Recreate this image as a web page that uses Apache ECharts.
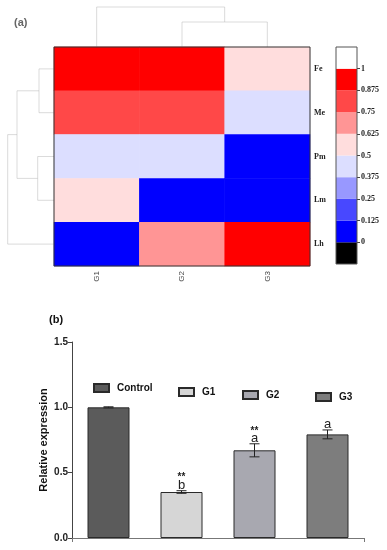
<!DOCTYPE html>
<html><head><meta charset="utf-8">
<script src="https://cdn.jsdelivr.net/npm/echarts@6/dist/echarts.min.js"></script>
<style>html,body{margin:0;padding:0;background:#fff}#c{width:387px;height:550px}</style>
</head><body><div id="c"></div>
<script>
// ---------- heatmap data ----------
const heatCols = ['G1', 'G2', 'G3'];
const heatRows = ['Fe', 'Me', 'Pm', 'Lm', 'Lh'];
const rowFe = [0.95, 0.95, 0.56];
const rowMe = [0.80, 0.80, 0.44];
const rowPm = [0.44, 0.44, 0.06];
const rowLm = [0.56, 0.06, 0.06];
const rowLh = [0.06, 0.70, 0.95];
// colour key: bin edges and colours (bottom to top)
const keyEdges = [-0.125, 0, 0.125, 0.25, 0.375, 0.5, 0.625, 0.75, 0.875, 1, 1.125];
const keyLabels = [0, 0.125, 0.25, 0.375, 0.5, 0.625, 0.75, 0.875, 1];
const keyColors = ['#000000', '#0000ff', '#4848ff', '#9898ff', '#dcdeff', '#ffdddd', '#ff9595', '#ff4848', '#ff0000', '#ffffff'];
// dendrogram linkages [a, b, height]  (new node index = nLeaves + k)
const colLinkage = [[1, 2, 25], [0, 3, 40]];
const rowLinkage = [[0, 1, 15], [2, 3, 16.3], [5, 6, 37], [4, 7, 46.3]];

// ---------- bar chart data ----------
const barCats = ['Control', 'G1', 'G2', 'G3'];
const barValues = [1.0, 0.352, 0.671, 0.793];
const barErrors = [0.004, 0.01, 0.05, 0.034];
const barStars = ['', '**', '**', ''];
const barLetters = ['', 'b', 'a', 'a'];
const barColors = ['#5b5b5b', '#d6d6d6', '#a8a8b0', '#7d7d7d'];
const yTicks = [0, 0.5, 1.0, 1.5];

// ---------- build helpers ----------
const heatRowsData = [rowFe, rowMe, rowPm, rowLm, rowLh];
const heatData = [];
heatRowsData.forEach((row, r) => row.forEach((v, c) => heatData.push([c, r, v])));

function dendroLinks(linkage, n) {
  const pos = [], hgt = [];
  for (let i = 0; i < n; i++) { pos.push(i + 0.5); hgt.push(0); }
  const links = [];
  linkage.forEach(([a, b, h]) => {
    links.push([[pos[a], hgt[a]], [pos[a], h], [pos[b], h], [pos[b], hgt[b]]]);
    pos.push((pos[a] + pos[b]) / 2); hgt.push(h);
  });
  return links;
}
const colLinks = dendroLinks(colLinkage, heatCols.length);
const rowLinks = dendroLinks(rowLinkage, heatRows.length).map(l => l.map(([p, h]) => [h, p]));

const pieces = [];
for (let i = 0; i < keyColors.length; i++) {
  const p = { color: keyColors[i] };
  if (i > 0) p.gte = keyEdges[i];
  if (i < keyColors.length - 1) p.lt = keyEdges[i + 1];
  pieces.push(p);
}

const serif = 'Liberation Serif', sans = 'Liberation Sans';
const dendroStyle = { color: '#b8b8b8', width: 1 };

const series = [];
series.push({
  type: 'heatmap', xAxisIndex: 0, yAxisIndex: 0, data: heatData,
  itemStyle: { borderWidth: 0 }, emphasis: { disabled: true }, silent: true
});
series.push({
  type: 'lines', coordinateSystem: 'cartesian2d', xAxisIndex: 1, yAxisIndex: 1, polyline: true,
  data: colLinks.map(c => ({ coords: c })), lineStyle: dendroStyle, silent: true
});
series.push({
  type: 'lines', coordinateSystem: 'cartesian2d', xAxisIndex: 2, yAxisIndex: 2, polyline: true,
  data: rowLinks.map(c => ({ coords: c })), lineStyle: dendroStyle, silent: true
});
keyColors.forEach((col, i) => {
  const size = keyEdges[i + 1] - keyEdges[i];
  series.push({
    type: 'bar', xAxisIndex: 3, yAxisIndex: 3, stack: 'key', barWidth: '100%',
    data: [keyEdges[i] < 0 ? -size : size],
    itemStyle: { color: col }, silent: true
  });
});
barCats.forEach((name, i) => {
  series.push({
    name: name, type: 'bar', xAxisIndex: 4, yAxisIndex: 4, stack: 'bars', barWidth: 42,
    data: barValues.map((v, j) => j === i ? v : '-'),
    itemStyle: { color: barColors[i], borderColor: '#2a2a2a', borderWidth: 1 }, silent: true
  });
});
series.push({
  type: 'custom', xAxisIndex: 4, yAxisIndex: 4, silent: true, z: 5,
  data: barValues.map((v, i) => [i, v]),
  renderItem: function (params, api) {
    const i = params.dataIndex, v = barValues[i], e = barErrors[i];
    const top = api.coord([i, v + e]), bot = api.coord([i, v - e]);
    const x = top[0], cap = 5, st = { stroke: '#222', lineWidth: 1 };
    const ch = [
      { type: 'line', shape: { x1: x, y1: top[1], x2: x, y2: bot[1] }, style: st },
      { type: 'line', shape: { x1: x - cap, y1: top[1], x2: x + cap, y2: top[1] }, style: st },
      { type: 'line', shape: { x1: x - cap, y1: bot[1], x2: x + cap, y2: bot[1] }, style: st }
    ];
    let ly = top[1];
    if (barLetters[i]) {
      ch.push({ type: 'text', x: x, y: top[1] + 1, style: { text: barLetters[i], align: 'center', verticalAlign: 'bottom', font: '13px ' + sans, fill: '#222' } });
      ly = top[1] - 11;
    }
    if (barStars[i]) {
      ch.push({ type: 'text', x: x, y: ly - 7, style: { text: barStars[i], align: 'center', verticalAlign: 'top', font: 'bold 10px ' + sans, fill: '#222' } });
    }
    return { type: 'group', children: ch };
  }
});

const legendPos = [[93, 383], [178, 387], [242, 390], [315, 392]];
const legends = barCats.map((name, i) => ({
  data: [name], left: legendPos[i][0], top: legendPos[i][1], padding: 0,
  itemWidth: 15, itemHeight: 8, selectedMode: false, icon: 'rect',
  textStyle: { fontFamily: sans, fontWeight: 'bold', fontSize: 10, color: '#111', padding: [0, 0, 0, 3] }
}));

const option = {
  animation: false,
  backgroundColor: '#fff',
  title: [
    { text: '(a)', left: 14, top: 17, padding: 0, textStyle: { fontFamily: sans, fontSize: 11, fontWeight: 'bold', color: '#666' } },
    { text: '(b)', left: 49, top: 314, padding: 0, textStyle: { fontFamily: sans, fontSize: 11, fontWeight: 'bold', color: '#111' } }
  ],
  legend: legends,
  visualMap: { type: 'piecewise', show: false, seriesIndex: 0, pieces: pieces },
  grid: [
    { left: 54, top: 47, width: 256, height: 219, show: true, borderColor: '#333', borderWidth: 1, z: 3 },
    { left: 54, top: 0, width: 256, height: 47 },
    { left: 0, top: 47, width: 54, height: 219 },
    { left: 336, top: 47, width: 21, height: 217, show: true, borderColor: '#555', borderWidth: 1, z: 3 },
    { left: 72, top: 342, width: 292, height: 196 }
  ],
  xAxis: [
    { type: 'category', gridIndex: 0, data: heatCols, axisLine: { show: false }, axisTick: { show: false },
      axisLabel: { rotate: 90, fontSize: 8, fontFamily: sans, color: '#444', margin: 5 } },
    { type: 'value', gridIndex: 1, min: 0, max: 3, show: false },
    { type: 'value', gridIndex: 2, min: 0, max: 54, inverse: true, show: false },
    { type: 'category', gridIndex: 3, data: [''], show: false },
    { type: 'category', gridIndex: 4, data: barCats,
      axisLine: { lineStyle: { color: '#777', width: 1 } },
      axisTick: { show: true, length: 4, interval: function (i) { return i === 2; }, lineStyle: { color: '#777' } },
      axisLabel: { show: false } }
  ],
  yAxis: [
    { type: 'category', gridIndex: 0, data: heatRows, inverse: true, position: 'right',
      axisLine: { show: false }, axisTick: { show: false },
      axisLabel: { fontSize: 8, fontFamily: serif, fontWeight: 'bold', color: '#222', margin: 4 } },
    { type: 'value', gridIndex: 1, min: 0, max: 47, show: false },
    { type: 'value', gridIndex: 2, min: 0, max: 5, inverse: true, show: false },
    { type: 'value', gridIndex: 3, min: -0.125, max: 1.125, interval: 0.125, position: 'right',
      axisLine: { show: false }, splitLine: { show: false },
      axisTick: { show: true, length: 3, customValues: keyLabels, lineStyle: { color: '#444' } },
      axisLabel: { fontSize: 8, fontFamily: serif, fontWeight: 'bold', color: '#222', margin: 4,
        customValues: keyLabels, formatter: v => String(v) } },
    { type: 'value', gridIndex: 4, min: yTicks[0], max: yTicks[yTicks.length - 1], interval: yTicks[1] - yTicks[0],
      name: 'Relative expression', nameLocation: 'middle', nameGap: 23, nameMoveOverlap: false,
      nameTextStyle: { fontFamily: sans, fontWeight: 'bold', fontSize: 11, color: '#111' },
      axisLine: { show: true, lineStyle: { color: '#444' } },
      axisTick: { show: true, length: 4, lineStyle: { color: '#444' } },
      splitLine: { show: false },
      axisLabel: { fontFamily: sans, fontWeight: 'bold', fontSize: 10, color: '#222', margin: 4,
        formatter: v => v.toFixed(1) } }
  ],
  series: series
};
const chart = echarts.init(document.getElementById('c'), null, { renderer: 'canvas' });
chart.setOption(option);
</script></body></html>
